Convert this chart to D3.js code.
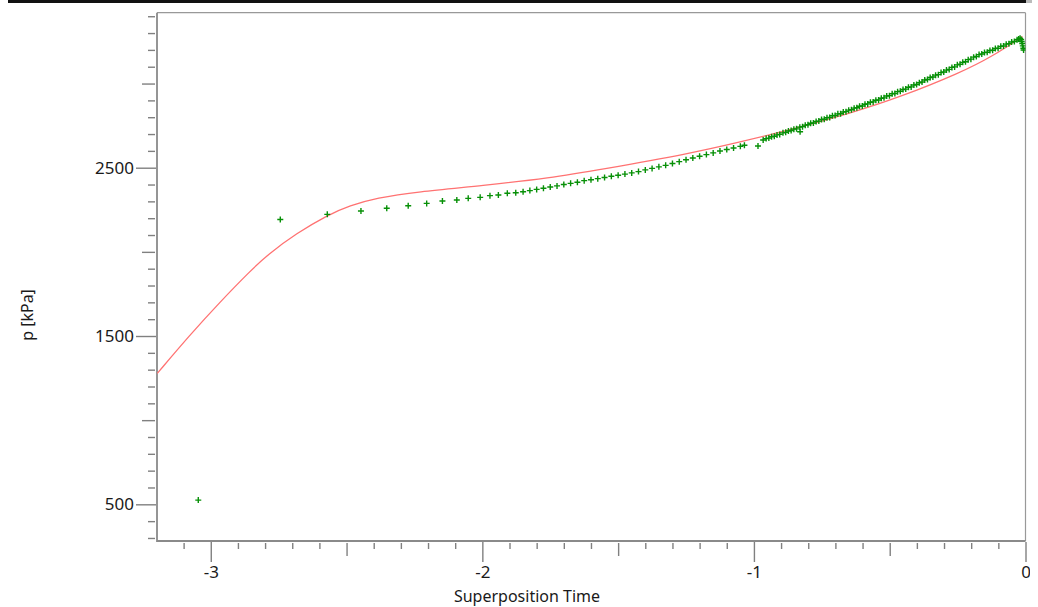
<!DOCTYPE html>
<html>
<head>
<meta charset="utf-8">
<script src="https://cdn.jsdelivr.net/npm/d3@7"></script>
<style>
  html, body { margin: 0; padding: 0; background: #ffffff; }
  svg { display: block; }
  text { font-family: "Noto Sans", "DejaVu Sans", sans-serif; fill: #1a1a1a; }
</style>
</head>
<body>
<svg id="chart" width="1038" height="607"></svg>
<script>
// ---- data ----
const redT = [-3.197, -3.077, -2.966, -2.855, -2.788, -2.684, -2.573, -2.488, -2.389, -2.242,
              -1.997, -1.751, -1.566, -1.235, -1.051, -0.867, -0.645, -0.461, -0.241, -0.119,
              -0.011];
const redP = [1278, 1506, 1702, 1886, 1987, 2110, 2216, 2275, 2320, 2357,
              2394, 2439, 2489, 2584, 2653, 2724, 2823, 2920, 3063, 3164,
              3280];

const greenT = [-3.046, -2.744, -2.571, -2.447, -2.352, -2.273, -2.205, -2.147, -2.094, -2.052,
  -2.008, -1.972, -1.941, -1.908, -1.877, -1.850, -1.825, -1.800, -1.775, -1.750,
  -1.725, -1.700, -1.675, -1.650, -1.625, -1.600, -1.575, -1.550, -1.525, -1.500,
  -1.475, -1.450, -1.425, -1.400, -1.375, -1.350, -1.325, -1.300, -1.275, -1.250,
  -1.225, -1.200, -1.175, -1.150, -1.125, -1.100, -1.075, -1.050, -1.035, -0.985,
  -0.966, -0.955, -0.945, -0.935, -0.925, -0.915, -0.905, -0.893, -0.883, -0.873,
  -0.863, -0.853, -0.843, -0.830, -0.831, -0.821, -0.811, -0.801, -0.791, -0.781,
  -0.771, -0.761, -0.751, -0.741, -0.731, -0.721, -0.711, -0.701, -0.691, -0.681,
  -0.671, -0.661, -0.651, -0.641, -0.631, -0.621, -0.611, -0.601, -0.591, -0.581,
  -0.571, -0.561, -0.551, -0.541, -0.531, -0.521, -0.511, -0.501, -0.491, -0.481,
  -0.471, -0.461, -0.451, -0.441, -0.431, -0.421, -0.411, -0.401, -0.391, -0.381,
  -0.371, -0.361, -0.351, -0.341, -0.331, -0.321, -0.311, -0.301, -0.291, -0.281,
  -0.271, -0.261, -0.251, -0.241, -0.231, -0.221, -0.211, -0.201, -0.191, -0.181,
  -0.171, -0.161, -0.151, -0.141, -0.131, -0.121, -0.111, -0.101, -0.091, -0.081,
  -0.071, -0.061, -0.051, -0.041, -0.031, -0.025, -0.020, -0.016, -0.014, -0.012,
  -0.010, -0.008, -0.007];
const greenP = [525, 2192, 2223, 2243, 2259, 2274, 2288, 2302, 2308, 2318,
  2324, 2334, 2338, 2348, 2351, 2357, 2364, 2371, 2378, 2385,
  2392, 2400, 2407, 2414, 2423, 2428, 2435, 2442, 2449, 2455,
  2462, 2469, 2477, 2487, 2496, 2505, 2514, 2525, 2536, 2547,
  2558, 2568, 2578, 2588, 2599, 2608, 2617, 2627, 2633, 2629,
  2665, 2673, 2676, 2684, 2687, 2695, 2698, 2707, 2710, 2718,
  2721, 2729, 2731, 2714, 2741, 2744, 2753, 2755, 2764, 2766,
  2775, 2777, 2786, 2788, 2797, 2799, 2809, 2810, 2820, 2821,
  2831, 2833, 2842, 2844, 2854, 2856, 2865, 2867, 2877, 2879,
  2889, 2891, 2901, 2902, 2913, 2915, 2926, 2928, 2939, 2941,
  2952, 2954, 2965, 2967, 2978, 2980, 2991, 2994, 3005, 3009,
  3021, 3024, 3036, 3039, 3050, 3053, 3065, 3069, 3080, 3084,
  3096, 3099, 3111, 3115, 3126, 3130, 3142, 3145, 3157, 3161,
  3172, 3176, 3184, 3186, 3196, 3198, 3208, 3210, 3221, 3223,
  3234, 3237, 3247, 3250, 3260, 3264, 3269, 3262, 3250, 3238,
  3224, 3210, 3199];

const yMinorTicks = [300, 400, 600, 700, 800, 900, 1100, 1200, 1300, 1400, 1600, 1700, 1800, 1900,
                     2100, 2200, 2300, 2400, 2600, 2700, 2800, 2900, 3100, 3200, 3300, 3400];
const yMidTicks = [1000, 2000, 3000];
const yMajorTicks = [500, 1500, 2500];
const xMinorTicks = [-3.1, -2.9, -2.8, -2.7, -2.6, -2.4, -2.3, -2.2, -2.1, -1.9, -1.8, -1.7, -1.6,
                     -1.4, -1.3, -1.2, -1.1, -0.9, -0.8, -0.7, -0.6, -0.4, -0.3, -0.2, -0.1];
const xMidTicks = [-2.5, -1.5, -0.5];
const xMajorTicks = [-3, -2, -1, 0];
const xTitle = "Superposition Time";
const yTitle = "p [kPa]";

// ---- layout ----
const L = 157, R = 1025.5, T = 12.7, B = 541;
const svg = d3.select("#chart");
const x = d3.scaleLinear().domain([-3.198, 0]).range([L, R]);
const y = d3.scaleLinear().domain([282, 3421]).range([B, T]);
const plainFmt = d => String(d); // hyphen-minus, as in the reference

// top dark bar
svg.append("rect").attr("x", 8).attr("y", 0).attr("width", 1018).attr("height", 3).attr("fill", "#111");
svg.append("rect").attr("x", 1026).attr("y", 0).attr("width", 6).attr("height", 3).attr("fill", "#bbb");

// clip for the last x label
svg.append("clipPath").attr("id", "pageclip")
  .append("rect").attr("x", 0).attr("y", 0).attr("width", 1030).attr("height", 607);
svg.append("clipPath").attr("id", "plotclip")
  .append("rect").attr("x", L).attr("y", T).attr("width", R - L).attr("height", B - T);

const tickColor = "#808080";
function styleAxis(g) {
  g.select(".domain").remove();
  g.selectAll(".tick line").attr("stroke", tickColor).attr("stroke-width", 1.4);
  g.selectAll(".tick text").style("font-size", "17px").attr("fill", "#1a1a1a");
}

// Y axis ticks
svg.append("g").attr("transform", `translate(${L - 2},0)`)
  .call(d3.axisLeft(y).tickValues(yMinorTicks).tickSize(7).tickFormat(""))
  .call(styleAxis);
svg.append("g").attr("transform", `translate(${L - 2},0)`)
  .call(d3.axisLeft(y).tickValues(yMidTicks).tickSize(13).tickFormat(""))
  .call(styleAxis);
svg.append("g").attr("transform", `translate(${L - 1},0)`)
  .call(d3.axisLeft(y).tickValues(yMajorTicks).tickSize(20).tickPadding(2).tickFormat(plainFmt))
  .call(styleAxis);

// X axis ticks
svg.append("g").attr("transform", `translate(0,${B + 2})`)
  .call(d3.axisBottom(x).tickValues(xMinorTicks).tickSize(6).tickFormat(""))
  .call(styleAxis);
svg.append("g").attr("transform", `translate(0,${B + 2})`)
  .call(d3.axisBottom(x).tickValues(xMidTicks).tickSize(13).tickFormat(""))
  .call(styleAxis);
svg.append("g").attr("transform", `translate(0,${B + 1})`).attr("clip-path", "url(#pageclip)")
  .call(d3.axisBottom(x).tickValues(xMajorTicks).tickSize(20).tickPadding(4).tickFormat(plainFmt))
  .call(styleAxis);

// frame
svg.append("line").attr("x1", L).attr("x2", R).attr("y1", T).attr("y2", T)
  .attr("stroke", "#999").attr("stroke-width", 1.2);
svg.append("line").attr("x1", R).attr("x2", R).attr("y1", T).attr("y2", B)
  .attr("stroke", "#999").attr("stroke-width", 1.2);
svg.append("line").attr("x1", L).attr("x2", L).attr("y1", T).attr("y2", B + 1)
  .attr("stroke", "#8a8a8a").attr("stroke-width", 1.8);
svg.append("line").attr("x1", L).attr("x2", R).attr("y1", B).attr("y2", B)
  .attr("stroke", "#8a8a8a").attr("stroke-width", 1.8);

// plot content
const plot = svg.append("g").attr("clip-path", "url(#plotclip)");

const greenData = greenT.map((t, i) => ({ t, p: greenP[i] }));
const redData = redT.map((t, i) => ({ t, p: redP[i] }));

// red model curve
plot.append("path")
  .datum(redData)
  .attr("fill", "none")
  .attr("stroke", "#ff7272")
  .attr("stroke-width", 1.3)
  .attr("d", d3.line().x(d => x(d.t)).y(d => y(d.p)).curve(d3.curveBasis));

// green "+" markers
const s = 3;
plot.append("g").selectAll("path")
  .data(greenData)
  .join("path")
  .attr("d", d => `M${x(d.t) - s},${y(d.p)}H${x(d.t) + s}M${x(d.t)},${y(d.p) - s}V${y(d.p) + s}`)
  .attr("stroke", "#079007")
  .attr("stroke-width", 1.4)
  .attr("fill", "none");

// axis titles
svg.append("text")
  .attr("x", 527).attr("y", 602)
  .attr("text-anchor", "middle")
  .style("font-size", "16px")
  .text(xTitle);
svg.append("text")
  .attr("transform", "translate(33,315) rotate(-90)")
  .attr("text-anchor", "middle")
  .style("font-size", "16px")
  .text(yTitle);
</script>
</body>
</html>
